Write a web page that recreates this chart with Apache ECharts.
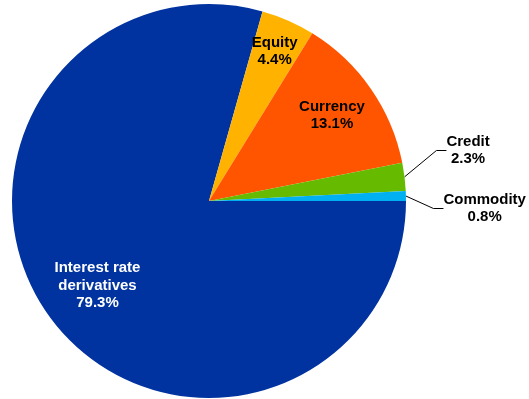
<!DOCTYPE html>
<html>
<head>
<meta charset="utf-8">
<script src="https://cdn.jsdelivr.net/npm/echarts@6/dist/echarts.min.js"></script>
<style>
  html, body { margin: 0; padding: 0; background: #fff; }
  #chart { width: 529px; height: 399px; }
</style>
</head>
<body>
<div id="chart"></div>
<script>
// data
const categories = ["Interest rate\nderivatives", "Equity", "Currency", "Credit", "Commodity"];
const shares = [79.3, 4.4, 13.1, 2.3, 0.8];
const colors = ["#0033a0", "#ffb300", "#ff5500", "#66bb00", "#00b0f0"];

// label placement: [radius factor, angle nudge in degrees]
const labelSpot = [[0.71, 0], [0.83, 0], [0.76, 0], [1.34, -4], [1.40, 3]];
const outside = [false, false, false, true, true];

const cx = 209, cy = 201, r = 197;
const total = shares.reduce((a, b) => a + b, 0);

// mid angle of each slice, clockwise from 3 o'clock (screen coords)
const midAngles = [];
let acc = 0;
shares.forEach((v) => {
  midAngles.push(((acc + v / 2) / total) * 360);
  acc += v;
});

let chart = echarts.init(document.getElementById("chart"));

chart.setOption({
  animation: false,
  series: [
    {
      type: "pie",
      center: [cx, cy],
      radius: r,
      startAngle: 0,
      clockwise: true,
      avoidLabelOverlap: false,
      itemStyle: { borderWidth: 0 },
      label: {
        fontFamily: "Liberation Sans, Arial, sans-serif",
        fontWeight: "bold",
        fontSize: 15,
        lineHeight: 17.5,
        align: "center",
        formatter: (p) => p.name + "\n" + p.value.toFixed(1) + "%",
      },
      labelLine: {
        lineStyle: { color: "#000", width: 1 },
      },
      labelLayout: (params) => {
        const i = params.dataIndex;
        const [f, nudge] = labelSpot[i];
        const a = ((midAngles[i] + nudge) * Math.PI) / 180;
        return {
          x: cx + r * f * Math.cos(a),
          y: cy + r * f * Math.sin(a),
          align: "center",
          verticalAlign: "middle",
        };
      },
      data: categories.map((name, i) => ({
        name: name,
        value: shares[i],
        itemStyle: { color: colors[i] },
        label: {
          position: outside[i] ? "outside" : "inside",
          color: i === 0 ? "#fff" : "#000",
        },
        labelLine: { show: outside[i], length: 12, length2: 10 },
      })),
    },
  ],
});
</script>
</body>
</html>
